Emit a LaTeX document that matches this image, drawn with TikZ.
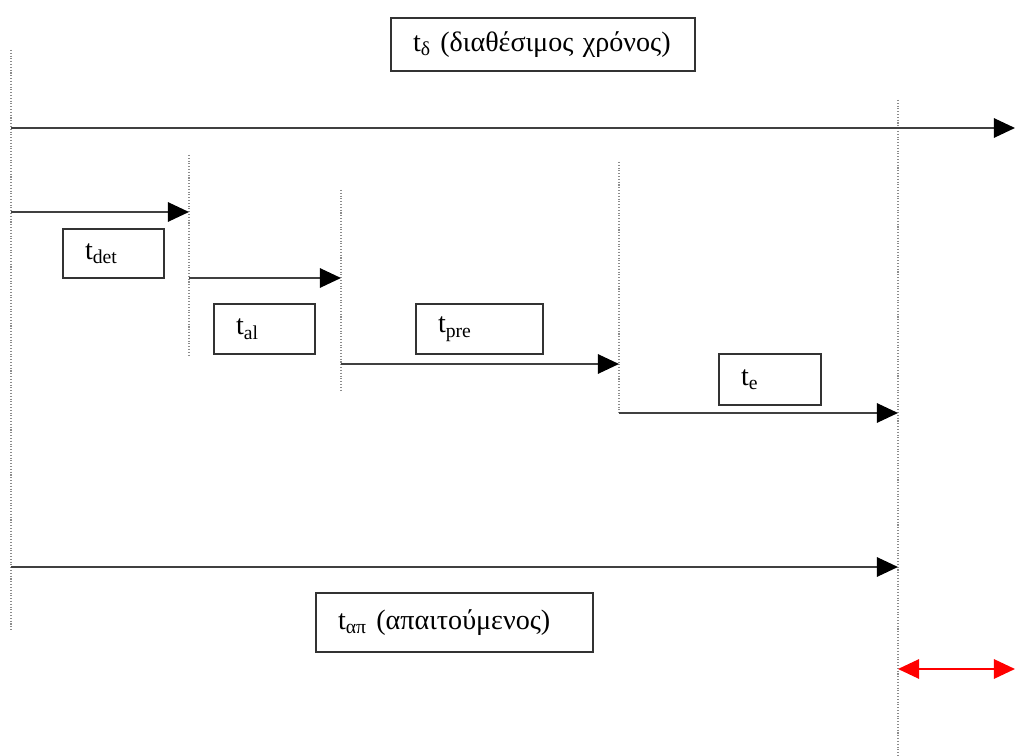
\documentclass[tikz,border=0pt]{standalone}
\usepackage{fontspec}
\setmainfont{Liberation Serif}
\usetikzlibrary{arrows.meta}

\begin{document}
\begin{tikzpicture}[x=0.02cm, y=-0.02cm,
    timebox/.style ={rectangle, draw=black!80, line width=0.8pt, inner xsep=0.44cm, inner ysep=0pt, align=left, font=\fontsize{16}{19}\selectfont},
    timearrow/.style ={draw=black!75, line width=1.1pt, -{Triangle[length=12pt, width=11pt, color=black]}},
    marker/.style ={draw=black!45, densely dotted, line width=0.6pt}]
   \useasboundingbox (0,0) rectangle (1015,756);

   % vertical markers
   \coordinate (m0a) at (11,50);   \coordinate (m0b) at (11,630);
   \coordinate (m1a) at (189,155); \coordinate (m1b) at (189,355);
   \coordinate (m2a) at (341,190); \coordinate (m2b) at (341,390);
   \coordinate (m3a) at (619,162); \coordinate (m3b) at (619,415);
   \coordinate (m4a) at (898,100); \coordinate (m4b) at (898,756);

   \draw[marker] (m0a) -- (m0b);
   \draw[marker] (m1a) -- (m1b);
   \draw[marker] (m2a) -- (m2b);
   \draw[marker] (m3a) -- (m3b);
   \draw[marker] (m4a) -- (m4b);

   % arrow ends
   \coordinate (d0) at (11,128);  \coordinate (d1) at (1015,128);
   \coordinate (s0) at (11,212);  \coordinate (s1) at (189,212);
   \coordinate (s2) at (189,278); \coordinate (s3) at (341,278);
   \coordinate (s4) at (341,364); \coordinate (s5) at (619,364);
   \coordinate (s6) at (619,413); \coordinate (s7) at (898,413);
   \coordinate (r0) at (11,567);  \coordinate (r1) at (898,567);
   \coordinate (g0) at (898,669); \coordinate (g1) at (1015,669);

   \draw[timearrow] (d0) -- (d1);
   \draw[timearrow] (s0) -- (s1);
   \draw[timearrow] (s2) -- (s3);
   \draw[timearrow] (s4) -- (s5);
   \draw[timearrow] (s6) -- (s7);
   \draw[timearrow] (r0) -- (r1);
   \draw[red, line width=1.2pt, {Triangle[length=12pt, width=11pt]}-{Triangle[length=12pt, width=11pt]}] (g0) -- (g1);

   % labels
   \node[timebox, text width=5.20cm, minimum height=1.06cm] (avail) at (543,44.5) {t\textsubscript{δ} (διαθέσιμος χρόνος)};
   \node[timebox, text width=1.14cm, minimum height=0.98cm] (det) at (113.5,253.5) {\raisebox{-3pt}{t\textsubscript{det}}};
   \node[timebox, text width=1.14cm, minimum height=1.00cm] (al) at (264.5,329) {\raisebox{-3pt}{t\textsubscript{al}}};
   \node[timebox, text width=1.66cm, minimum height=1.00cm] (pre) at (479.5,329) {\raisebox{-3pt}{t\textsubscript{pre}}};
   \node[timebox, text width=1.16cm, minimum height=1.02cm] (e) at (770,379.5) {\raisebox{-3pt}{t\textsubscript{e}}};
   \node[timebox, text width=4.66cm, minimum height=1.18cm] (req) at (454.5,622.5) {t\textsubscript{απ} (απαιτούμενος)};
 \end{tikzpicture}
\end{document}
